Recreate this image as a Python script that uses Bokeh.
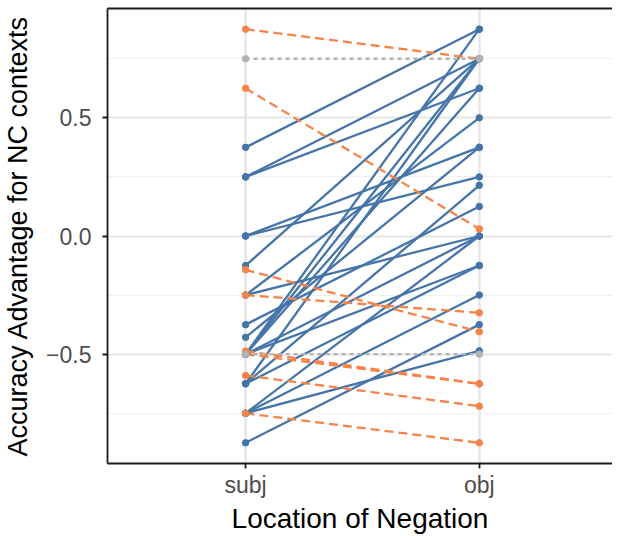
from bokeh.plotting import figure
from bokeh.models import ColumnDataSource, FixedTicker, LinearAxis, Range1d
from bokeh.embed import file_html
from bokeh.resources import INLINE

# ---- data ----
categories = ["subj", "obj"]
y_ticks = [-0.5, 0.0, 0.5]
y_tick_labels = ["\u22120.5", "0.0", "0.5"]
y_minor = [-0.75, -0.25, 0.25, 0.75]

# lines where obj > subj (blue, solid)
inc_subj = [0.375, 0.25, 0.25, 0.0, 0.0, -0.125, -0.25, -0.25, -0.375, -0.4286,
            -0.5, -0.5, -0.625, -0.5, -0.5, -0.5, -0.625, -0.625,
            -0.75, -0.75, -0.75, -0.875]
inc_obj = [0.875, 0.75, 0.625, 0.375, 0.25, 0.75, 0.5, 0.0, 0.125, 0.375,
           0.875, 0.75, 0.75, 0.625, 0.0, -0.125, 0.2143, -0.125,
           0.0, -0.25, -0.4857, -0.375]

# lines where obj < subj (orange, dashed)
dec_subj = [0.875, 0.625, -0.143, -0.25, -0.5, -0.487, -0.59, -0.75]
dec_obj = [0.75, 0.03, -0.405, -0.325, -0.625, -0.625, -0.72, -0.875]

# lines where obj == subj (grey, dotted)
same_subj = [0.75, -0.5]
same_obj = [0.75, -0.5]

BLUE = "#4575a8"
ORANGE = "#f5834a"
GREY = "#b3b3b3"

pos = {c: i + 1 for i, c in enumerate(categories)}


def line_source(s_vals, o_vals):
    xs = [[pos["subj"], pos["obj"]] for _ in s_vals]
    ys = [[s, o] for s, o in zip(s_vals, o_vals)]
    return ColumnDataSource(dict(xs=xs, ys=ys))


def point_source(s_vals, o_vals):
    x = [pos["subj"]] * len(s_vals) + [pos["obj"]] * len(o_vals)
    y = list(s_vals) + list(o_vals)
    return ColumnDataSource(dict(x=x, y=y))


p = figure(width=612, height=536, output_backend="svg", toolbar_location=None,
           x_range=Range1d(0.409, 2.57), y_range=Range1d(-0.9625, 0.9625),
           min_border_left=0, min_border_right=0, min_border_top=8, min_border_bottom=0)

p.background_fill_color = "white"
p.border_fill_color = "white"
p.outline_line_color = None

# grid
p.ygrid.ticker = FixedTicker(ticks=y_ticks, minor_ticks=y_minor)
p.ygrid.grid_line_color = "#e6e6e6"
p.ygrid.grid_line_width = 2
p.ygrid.minor_grid_line_color = "#f0f0f0"
p.ygrid.minor_grid_line_width = 1.2
p.xgrid.ticker = FixedTicker(ticks=[pos[c] for c in categories])
p.xgrid.grid_line_color = "#e6e6e6"
p.xgrid.grid_line_width = 2.5

# axes
FONT = "Liberation Sans"
p.yaxis.ticker = FixedTicker(ticks=y_ticks, minor_ticks=[])
p.yaxis.major_label_overrides = {t: l for t, l in zip(y_ticks, y_tick_labels)}
p.xaxis.ticker = FixedTicker(ticks=[pos[c] for c in categories], minor_ticks=[])
p.xaxis.major_label_overrides = {pos[c]: c for c in categories}

for ax in (p.xaxis[0], p.yaxis[0]):
    ax.axis_line_color = "#1a1a1a"
    ax.axis_line_width = 1.8
    ax.major_tick_line_color = "#1a1a1a"
    ax.major_tick_line_width = 1.8
    ax.major_tick_in = 0
    ax.major_tick_out = 5
    ax.minor_tick_line_color = None
    ax.major_label_text_font = FONT
    ax.major_label_text_font_size = "23px"
    ax.major_label_text_color = "#4d4d4d"
    ax.axis_label_text_font = FONT
    ax.axis_label_text_font_style = "normal"
    ax.axis_label_text_color = "black"

p.xaxis.axis_label_text_font_size = "28px"
p.yaxis.axis_label_text_font_size = "27px"
p.xaxis.axis_label = "Location of Negation"
p.yaxis.axis_label = "Accuracy Advantage for NC contexts"
p.xaxis.major_label_standoff = 3
p.xaxis.axis_label_standoff = 2
p.yaxis.major_label_standoff = 11
p.yaxis.axis_label_standoff = 10

top = LinearAxis(axis_line_color="#1a1a1a", axis_line_width=1.8,
                 ticker=FixedTicker(ticks=[], minor_ticks=[]),
                 major_tick_line_color=None, minor_tick_line_color=None,
                 major_label_standoff=0)
p.add_layout(top, "above")

# lines
p.multi_line("xs", "ys", source=line_source(inc_subj, inc_obj),
             line_color=BLUE, line_width=2.3)
p.multi_line("xs", "ys", source=line_source(dec_subj, dec_obj),
             line_color=ORANGE, line_width=2.3, line_dash="9 5")
p.multi_line("xs", "ys", source=line_source(same_subj, same_obj),
             line_color=GREY, line_width=2.3, line_dash="4 4")

# points
p.scatter("x", "y", source=point_source(inc_subj, inc_obj), size=6.5,
          fill_color=BLUE, line_color=BLUE)
p.scatter("x", "y", source=point_source(dec_subj, dec_obj), size=6.5,
          fill_color=ORANGE, line_color=ORANGE)
p.scatter("x", "y", source=point_source(same_subj, same_obj), size=6.5,
          fill_color=GREY, line_color=GREY)

open("out.html", "w").write(file_html(p, INLINE))
